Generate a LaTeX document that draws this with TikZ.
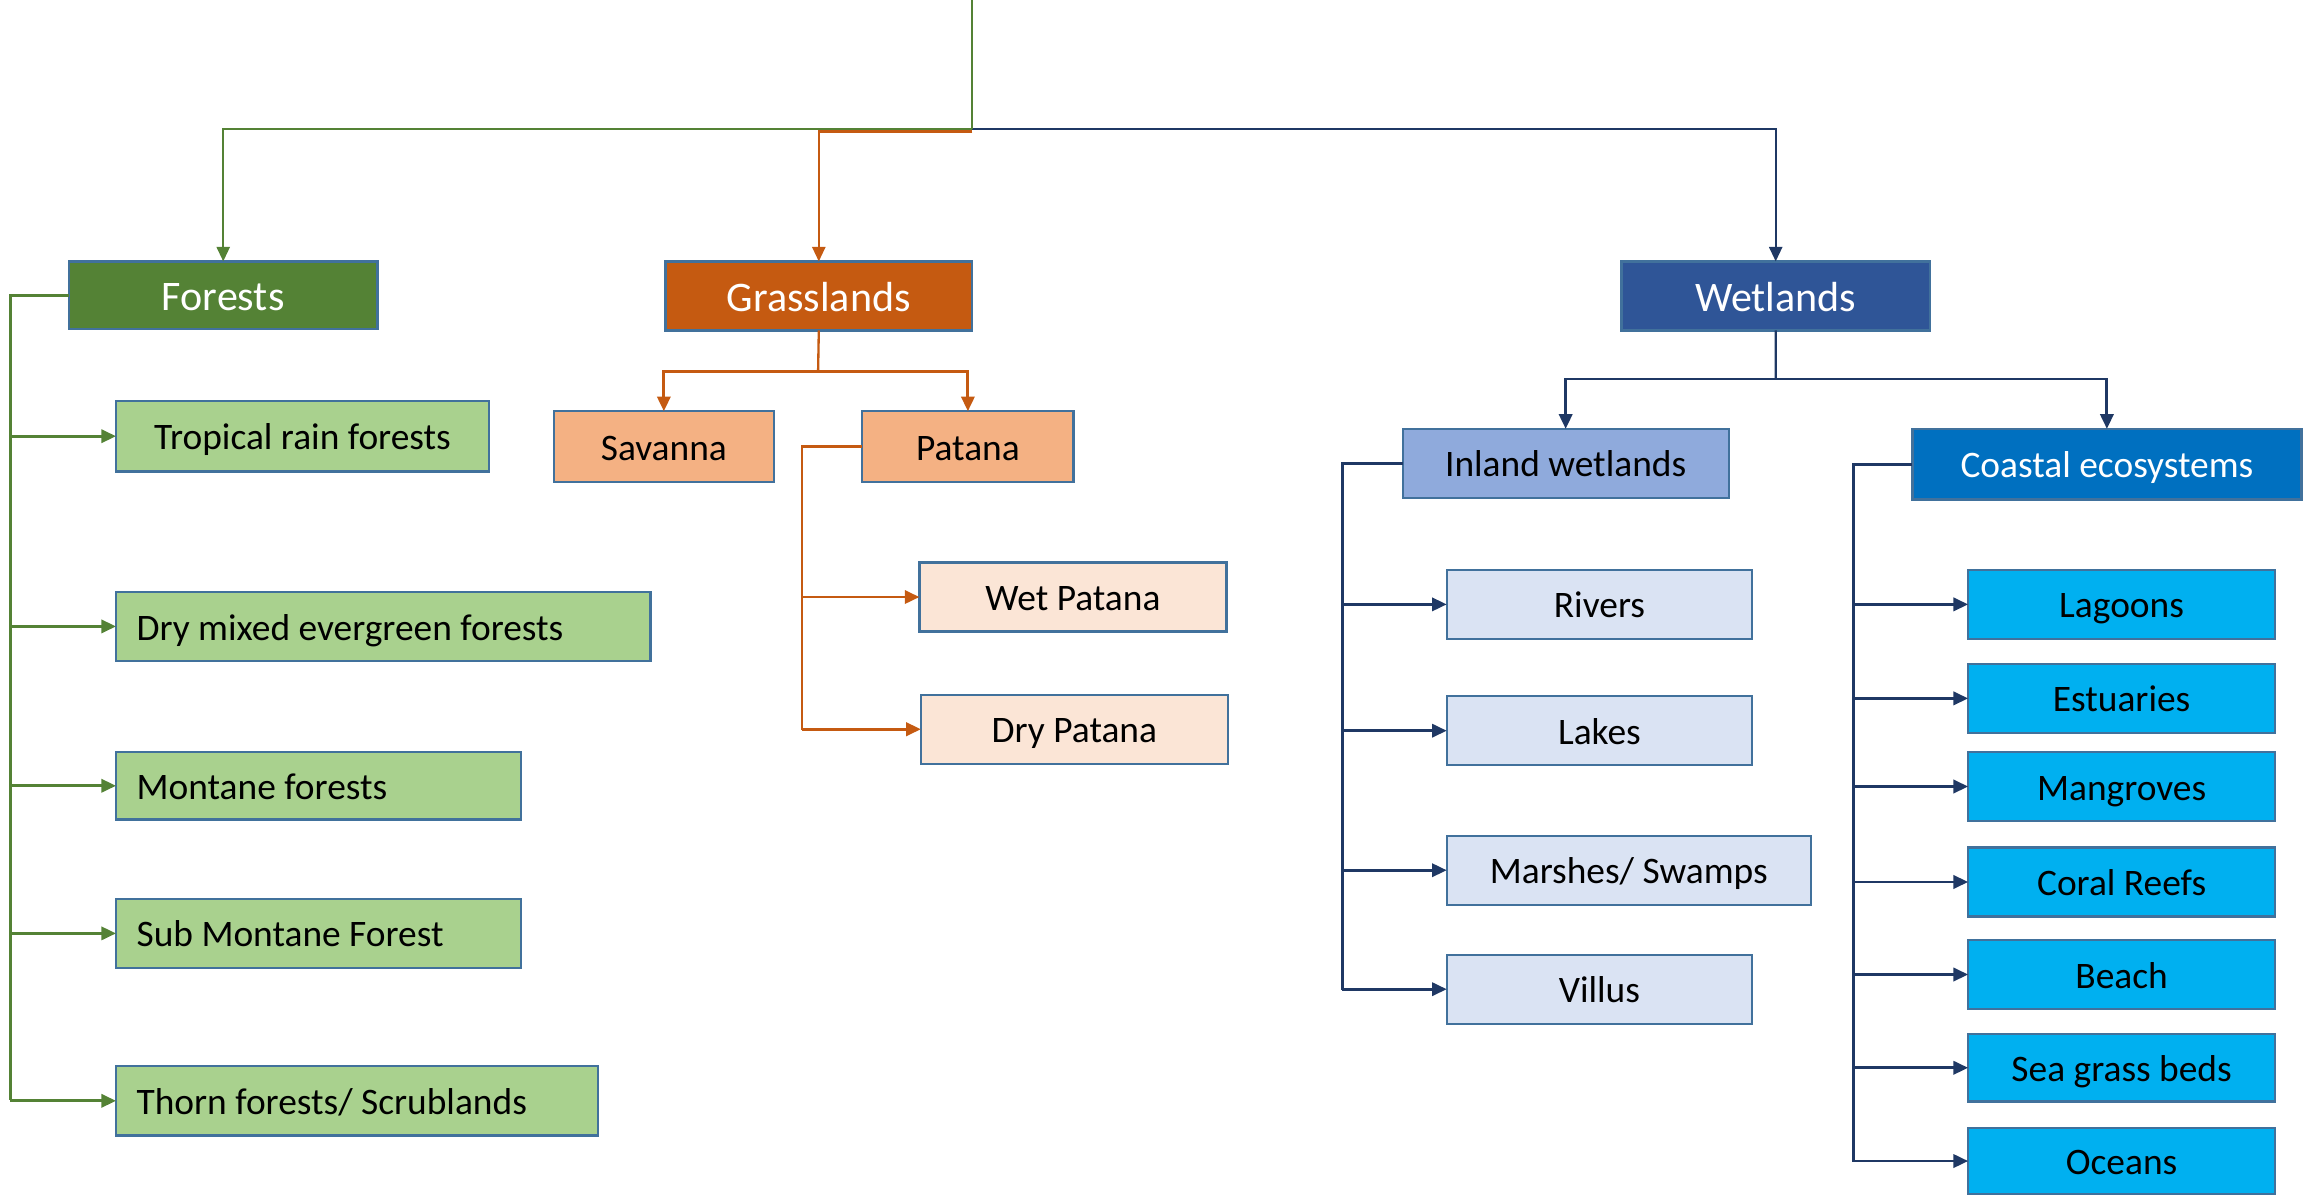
\documentclass[tikz,border=0pt]{standalone}
\usepackage{fontspec}
\setmainfont{Carlito}
\usetikzlibrary{arrows.meta}
\definecolor{fgreen}{HTML}{548235}
\definecolor{lgreen}{HTML}{A9D18E}
\definecolor{gorange}{HTML}{C55A11}
\definecolor{porange}{HTML}{F4B183}
\definecolor{lorange}{HTML}{FBE5D6}
\definecolor{wblue}{HTML}{2F5597}
\definecolor{iblue}{HTML}{8FAADC}
\definecolor{lblue}{HTML}{DAE3F3}
\definecolor{cblue}{HTML}{0070C0}
\definecolor{sblue}{HTML}{00B0F0}
\definecolor{navy}{HTML}{1F3864}
\definecolor{bord}{HTML}{41719C}
\tikzset{
  x=0.02cm, y=-0.02cm,
  base/.style={draw=bord, line width=0.9pt, anchor=north west, inner sep=0pt, outer sep=0pt,
    align=center, text height=0.43cm, text depth=0.06cm, font=\fontsize{14.5}{17}\selectfont},
  head/.style={base, text=white, text height=0.48cm, text depth=0.06cm, font=\fontsize{16.3}{19}\selectfont},
  lefttext/.style={inner xsep=0.28cm, align=flush left},
  tip/.style={-{Triangle[length=0.2cm,width=0.18cm]}},
  gline/.style={draw=fgreen, line width=0.9pt},
  gbranch/.style={draw=fgreen, line width=1.1pt},
  oline/.style={draw=gorange, line width=0.9pt},
  obranch/.style={draw=gorange, line width=1.1pt},
  nline/.style={draw=navy, line width=0.9pt},
  nbranch/.style={draw=navy, line width=1.1pt},
}
\begin{document}
\begin{tikzpicture}
\useasboundingbox (0,0) rectangle (1568,814);
% headers
\node[head, fill=fgreen, minimum width=4.2cm, minimum height=0.92cm] (F) at (47,178) {Forests};
\node[head, fill=gorange, minimum width=4.18cm, minimum height=0.94cm] (G) at (453,178) {Grasslands};
\node[head, fill=wblue, minimum width=4.2cm, minimum height=0.94cm] (W) at (1104,178) {Wetlands};
% forests children
\node[base, fill=lgreen, minimum width=5.08cm, minimum height=0.96cm] (T1) at (79,273) {Tropical rain forests};
\node[base, lefttext, fill=lgreen, minimum width=7.28cm, minimum height=0.94cm, text width=6.72cm] (T2) at (79,403) {Dry mixed evergreen forests};
\node[base, lefttext, fill=lgreen, minimum width=5.52cm, minimum height=0.92cm, text width=4.96cm] (T3) at (79,512) {Montane forests};
\node[base, lefttext, fill=lgreen, minimum width=5.52cm, minimum height=0.94cm, text width=4.96cm] (T4) at (79,612) {Sub Montane Forest};
\node[base, lefttext, fill=lgreen, minimum width=6.56cm, minimum height=0.94cm, text width=6.0cm] (T5) at (79,726) {Thorn forests/ Scrublands};
% grasslands children
\node[base, fill=porange, minimum width=3.0cm, minimum height=0.96cm] (Sav) at (377,280) {Savanna};
\node[base, fill=porange, minimum width=2.88cm, minimum height=0.96cm] (Pat) at (587,280) {Patana};
\node[base, fill=lorange, minimum width=4.18cm, minimum height=0.94cm] (WP) at (626,383) {Wet Patana};
\node[base, fill=lorange, minimum width=4.18cm, minimum height=0.94cm] (DP) at (627,473) {Dry Patana};
% wetlands children
\node[base, fill=iblue, minimum width=4.44cm, minimum height=0.94cm] (IW) at (955,292) {Inland wetlands};
\node[base, fill=cblue, text=white, minimum width=5.3cm, minimum height=0.96cm] (CE) at (1302,292) {Coastal ecosystems};
\node[base, fill=lblue, minimum width=4.16cm, minimum height=0.94cm] (R) at (985,388) {Rivers};
\node[base, fill=lblue, minimum width=4.16cm, minimum height=0.94cm] (L) at (985,474) {Lakes};
\node[base, fill=lblue, minimum width=4.96cm, minimum height=0.94cm] (M) at (985,569) {Marshes/ Swamps};
\node[base, fill=lblue, minimum width=4.16cm, minimum height=0.94cm] (V) at (985,650) {Villus};
\node[base, fill=sblue, minimum width=4.18cm, minimum height=0.94cm] (C1) at (1340,388) {Lagoons};
\node[base, fill=sblue, minimum width=4.18cm, minimum height=0.94cm] (C2) at (1340,452) {Estuaries};
\node[base, fill=sblue, minimum width=4.18cm, minimum height=0.94cm] (C3) at (1340,512) {Mangroves};
\node[base, fill=sblue, minimum width=4.18cm, minimum height=0.94cm] (C4) at (1340,577) {Coral Reefs};
\node[base, fill=sblue, minimum width=4.18cm, minimum height=0.94cm] (C5) at (1340,640) {Beach};
\node[base, fill=sblue, minimum width=4.18cm, minimum height=0.92cm] (C6) at (1340,704) {Sea grass beds};
\node[base, fill=sblue, minimum width=4.18cm, minimum height=0.9cm] (C7) at (1340,768) {Oceans};
% coordinates
\coordinate (top) at (662,0);
\coordinate (hub) at (662,88);
\coordinate (hubo) at (662,89.5);
\coordinate (fb) at (7,749);
\coordinate (gh) at (557,253);
\coordinate (pb) at (546,497);
\coordinate (wh) at (1209,258);
\coordinate (ib) at (914,674);
\coordinate (cb) at (1262,791);
% top connectors
\draw[nline, tip] (hub) -| (W.north);
\draw[oline, tip] (hubo) -| (G.north);
\draw[gline, tip] (hub) -| (F.north);
\draw[gline] (top) -- (hub);
% forests
\draw[gbranch] (F.west) -| (fb);
\foreach \n in {T1,T2,T3,T4,T5} \draw[gbranch, tip] (\n.west -| fb) -- (\n.west);
% grasslands
\draw[oline] (G.south) -- (gh);
\draw[obranch, tip] (gh) -| (Sav.north);
\draw[obranch, tip] (gh) -| (Pat.north);
\draw[obranch] (Pat.west) -| (pb);
\foreach \n in {WP,DP} \draw[obranch, tip] (\n.west -| pb) -- (\n.west);
% wetlands
\draw[nline] (W.south) -- (wh);
\draw[nbranch, tip] (wh) -| (IW.north);
\draw[nbranch, tip] (wh) -| (CE.north);
\draw[nbranch] (IW.west) -| (ib);
\foreach \n in {R,L,M,V} \draw[nbranch, tip] (\n.west -| ib) -- (\n.west);
\draw[nbranch] (CE.west) -| (cb);
\foreach \n in {C1,C2,C3,C4,C5,C6,C7} \draw[nbranch, tip] (\n.west -| cb) -- (\n.west);
\end{tikzpicture}
\end{document}
